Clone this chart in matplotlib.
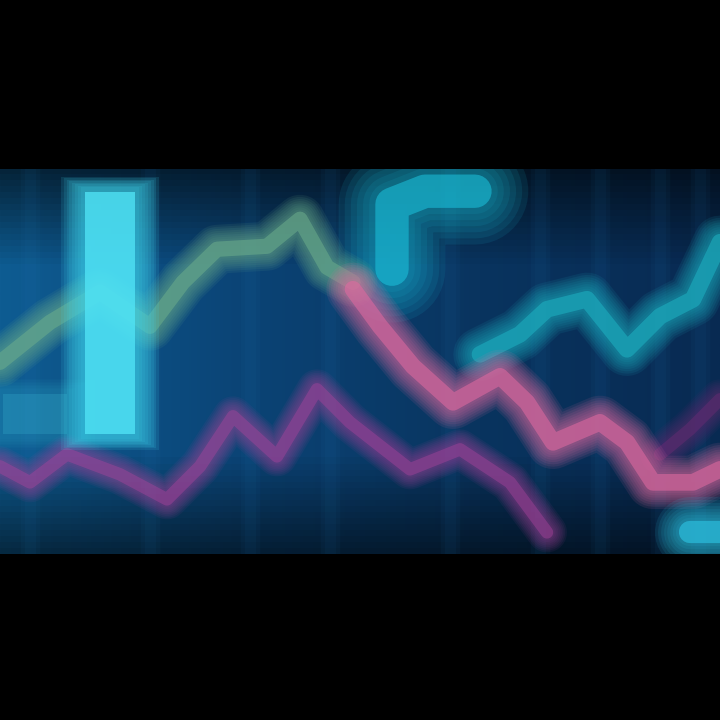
import numpy as np
import matplotlib.pyplot as plt
from matplotlib.colors import LinearSegmentedColormap

rise_x = [0, 50, 100, 150, 183, 217, 267, 300, 327, 353]
rise_y = [363, 323, 293, 327, 283, 250, 247, 220, 268, 283]

fall_x = [353, 380, 413, 453, 500, 527, 553, 600, 627, 653, 693, 720]
fall_y = [290, 327, 367, 403, 377, 403, 443, 423, 443, 483, 483, 470]

teal_x = [480, 520, 547, 587, 627, 660, 693, 720]
teal_y = [355, 335, 310, 300, 350, 317, 300, 243]

step_x = [392, 392, 425, 475]
step_y = [270, 205, 192, 192]

low_x = [0, 30, 67, 120, 167, 200, 233, 277, 317, 350, 410, 460, 510, 547]
low_y = [467, 483, 455, 475, 500, 467, 417, 457, 390, 423, 470, 450, 483, 533]

right_low_x = [660, 690, 720]
right_low_y = [455, 430, 400]

bar_x = [35, 110]
bar_w = [75, 58]
bar_top = [390, 188]
bar_alpha = [0.2, 1.0]

grid_x = [30, 150, 250, 330, 450, 540, 600, 660, 700]


def glow(ax, x, y, color, width, peak=0.9, layers=9):
    # stack wide faint strokes under a narrow one to fake a soft edge
    for k in np.linspace(3.2, 1.0, layers):
        ax.plot(x, y, color=color, lw=width * k, alpha=peak * 0.12,
                solid_capstyle="round", solid_joinstyle="round", zorder=3)
    ax.plot(x, y, color=color, lw=width, alpha=peak * 0.6,
            solid_capstyle="round", solid_joinstyle="round", zorder=3)


fig = plt.figure(figsize=(7.2, 7.2), dpi=100, facecolor="black")
ax = fig.add_axes([0, 0.23, 1, 0.535])
ax.set_xlim(0, 720)
ax.set_ylim(555, 170)
ax.axis("off")

# dark blue backdrop, lighter on the left
bg = LinearSegmentedColormap.from_list("bg", ["#0e5c92", "#0b4476", "#09345f", "#082a52"])
grad = np.linspace(0, 1, 256).reshape(1, -1)
ax.imshow(grad, cmap=bg, extent=[0, 720, 555, 170], aspect="auto", zorder=0)
ax.imshow(np.linspace(0, 1, 64).reshape(-1, 1), cmap=LinearSegmentedColormap.from_list(
    "v", [(0, 0, 0, 0.6), (0, 0, 0, 0.0), (0, 0, 0, 0.0), (0, 0, 0, 0.0), (0, 0, 0, 0.55)]),
    extent=[0, 720, 555, 170], aspect="auto", zorder=1)

for gx in grid_x:
    for k in [14, 8]:
        ax.axvline(gx, color="#2a80c0", lw=k, alpha=0.05, zorder=1)

glow(ax, low_x, low_y, "#a8449c", 9, 0.7)
glow(ax, right_low_x, right_low_y, "#7a2a7a", 9, 0.55)
glow(ax, step_x, step_y, "#1cc4de", 24, 0.85, layers=7)
glow(ax, teal_x, teal_y, "#1eb4c4", 12, 0.85)
glow(ax, rise_x, rise_y, "#6cae8c", 11, 0.85)
glow(ax, fall_x, fall_y, "#e06aa0", 12, 0.9)
glow(ax, [690, 720], [533, 533], "#2ec8e8", 16, 0.9)

# the cyan bars sit over the lines
for x, w, top, a in zip(bar_x, bar_w, bar_top, bar_alpha):
    for k in np.linspace(1.7, 1.0, 8):
        ax.bar(x, 440 - top + (k - 1) * 30, width=w * k, bottom=top - (k - 1) * 15,
               color="#3fd8f0", alpha=a * 0.13, zorder=4, lw=0)
    ax.bar(x, 430 - top, width=w * 0.85, bottom=top + 5, color="#52e6f8",
           alpha=a * 0.75, zorder=4, lw=0)

fig.savefig("out.png", dpi=100, facecolor="black")
